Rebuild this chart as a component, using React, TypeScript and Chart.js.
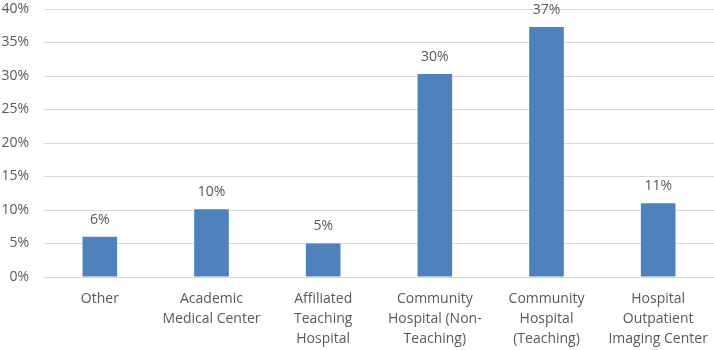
import React, { useEffect, useRef } from "react";
import { Chart, registerables, Plugin } from "chart.js";

Chart.register(...registerables);

// Share of respondents by facility type (percent)
const categories: string[][] = [
  ["Other"],
  ["Academic", "Medical Center"],
  ["Affiliated", "Teaching", "Hospital"],
  ["Community", "Hospital (Non-", "Teaching)"],
  ["Community", "Hospital", "(Teaching)"],
  ["Hospital", "Outpatient", "Imaging Center"],
];
const shares: number[] = [6.0, 10.1, 5.0, 30.3, 37.3, 11.0];
const yTicks: number[] = [0, 5, 10, 15, 20, 25, 30, 35, 40];

const FONT = "'Open Sans', 'Noto Sans', sans-serif";
const TEXT = "#595959";

// Writes each bar's rounded percentage just above its top
const valueLabels: Plugin<"bar"> = {
  id: "valueLabels",
  afterDatasetsDraw(chart) {
    const { ctx } = chart;
    const meta = chart.getDatasetMeta(0);
    const data = chart.data.datasets[0].data as number[];
    ctx.save();
    ctx.font = `14px ${FONT}`;
    ctx.fillStyle = TEXT;
    ctx.textAlign = "center";
    ctx.textBaseline = "middle";
    meta.data.forEach((bar, i) => {
      ctx.fillText(`${Math.round(data[i])}%`, bar.x, bar.y - 17);
    });
    ctx.restore();
  },
};

export default function App() {
  const canvasRef = useRef<HTMLCanvasElement>(null);

  useEffect(() => {
    if (!canvasRef.current) return;
    const chart = new Chart(canvasRef.current, {
      type: "bar",
      data: {
        labels: categories,
        datasets: [
          {
            data: shares,
            backgroundColor: "#4F81BD",
            borderWidth: 0,
            categoryPercentage: 1,
            barPercentage: 0.31,
          },
        ],
      },
      options: {
        animation: false,
        responsive: false,
        maintainAspectRatio: false,
        layout: { padding: 0 },
        plugins: {
          legend: { display: false },
          tooltip: { enabled: false },
        },
        scales: {
          x: {
            grid: { display: false },
            border: { display: false },
            afterFit: (axis) => {
              axis.height = 73;
            },
            ticks: {
              color: TEXT,
              font: { family: FONT, size: 14, lineHeight: "20px" },
              maxRotation: 0,
              autoSkip: false,
              padding: 4,
            },
          },
          y: {
            min: 0,
            max: 40,
            afterBuildTicks: (axis) => {
              axis.ticks = yTicks.map((v) => ({ value: v }));
            },
            afterFit: (axis) => {
              axis.width = 44;
              axis.paddingTop = 9;
              axis.paddingBottom = 0;
            },
            grid: { color: "#D9D9D9", lineWidth: 1, drawTicks: false },
            border: { display: false },
            ticks: {
              color: TEXT,
              font: { family: FONT, size: 14 },
              padding: 15,
              callback: (v) => `${v}%`,
            },
          },
        },
      },
      plugins: [valueLabels],
    });
    return () => chart.destroy();
  }, []);

  return (
    <div style={{ position: "fixed", left: 0, top: 0, width: 714, height: 350, background: "#fff" }}>
      <canvas ref={canvasRef} width={714} height={350} />
    </div>
  );
}
